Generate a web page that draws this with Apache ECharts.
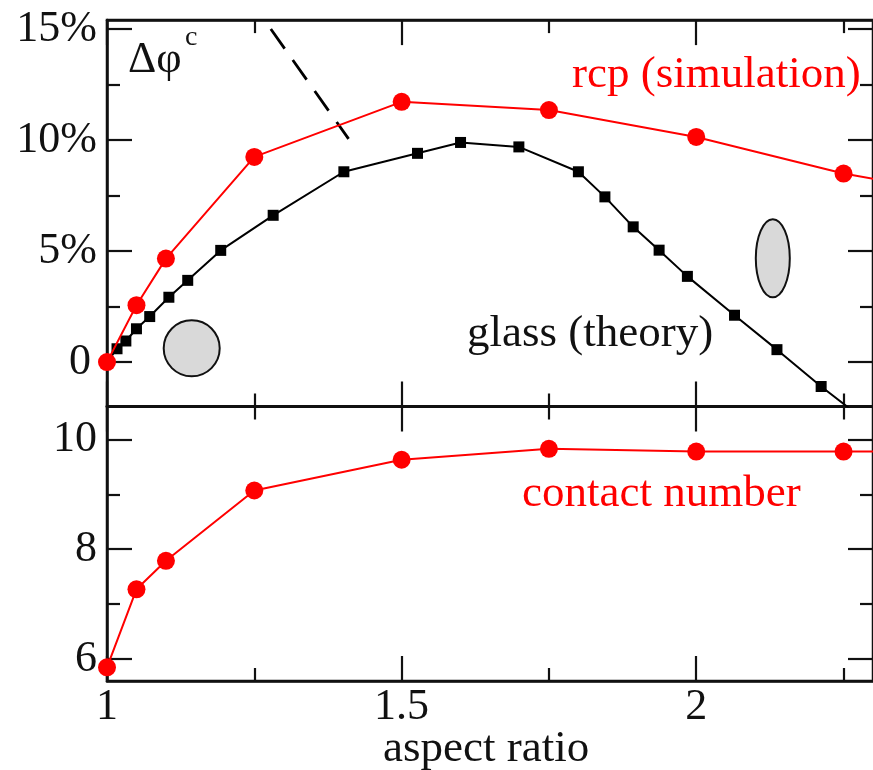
<!DOCTYPE html>
<html>
<head>
<meta charset="utf-8">
<script src="https://cdn.jsdelivr.net/npm/echarts@6/dist/echarts.min.js"></script>
<style>
  html, body { margin: 0; padding: 0; background: #fff; }
  #chart { width: 873px; height: 770px; }
</style>
</head>
<body>
<div id="chart"></div>
<script>
// ---- data -------------------------------------------------------------
// aspect ratio (shared x) and the quantities plotted against it
const rcpX       = [1, 1.05, 1.1, 1.25, 1.5, 1.75, 2.0, 2.25, 2.5];
const rcpDelta   = [0, 2.56, 4.66, 9.24, 11.72, 11.35, 10.14, 8.49, 7.3];

const glassX     = [1, 1.017, 1.032, 1.05, 1.0725, 1.105, 1.137, 1.193, 1.282,
                    1.402, 1.527, 1.6, 1.699, 1.8, 1.845, 1.893, 1.937, 1.985,
                    2.065, 2.137, 2.212, 2.29];
const glassDelta = [0, 0.6, 0.95, 1.5, 2.05, 2.92, 3.68, 5.03, 6.61,
                    8.57, 9.40, 9.89, 9.69, 8.57, 7.44, 6.09, 5.04, 3.86,
                    2.11, 0.56, -1.10, -2.7];

const slopeX     = [1.278, 1.41];
const slopeDelta = [15.0, 10.05];

const contactX   = [1, 1.05, 1.1, 1.25, 1.5, 1.75, 2.0, 2.25, 2.5];
const contactZ   = [5.85, 7.27, 7.79, 9.07, 9.63, 9.83, 9.78, 9.78, 9.78];

// axis ranges and tick values
const xRange     = [1, 2.3];
const deltaRange = [-2, 15.4];
const zRange     = [5.6, 10.6];
const xMajor     = [1, 1.5, 2];
const xMinor     = [1.25, 1.75, 2.25];
const deltaMajor = [0, 5, 10, 15];
const deltaMinor = [2.5, 7.5, 12.5];
const zMajor     = [6, 8, 10];
const zMinor     = [7, 9];

// ---- styling helpers --------------------------------------------------
const FONT = '"Liberation Serif", "Times New Roman", serif';
const INK = '#111';
const RED = '#ff0000';
const MAJOR_LEN = 25, MINOR_LEN = 13;

function pairs(xs, ys) { return xs.map((x, i) => [x, ys[i]]); }

function axis(grid, position, ticks, len, withLine, range, label) {
  return {
    type: 'value',
    gridIndex: grid,
    position: position,
    min: range[0],
    max: range[1],
    axisLine: { show: withLine, onZero: false, lineStyle: { color: INK, width: 2.5 } },
    axisTick: { show: true, inside: true, length: len, customValues: ticks,
                lineStyle: { color: INK, width: 2.2 } },
    axisLabel: label ? Object.assign({
      show: true, customValues: ticks, color: INK,
      fontFamily: FONT, fontSize: 44
    }, label) : { show: false },
    splitLine: { show: false },
    minorTick: { show: false }
  };
}

// per side: major ticks with frame line, then minor ticks
function xAxesFor(grid, withLabels) {
  return [
    axis(grid, 'bottom', xMajor, MAJOR_LEN, true, xRange,
         withLabels ? { margin: 4, formatter: v => String(v) } : null),
    axis(grid, 'bottom', xMinor, MINOR_LEN, false, xRange, null),
    axis(grid, 'top', xMajor, MAJOR_LEN, true, xRange, null),
    axis(grid, 'top', xMinor, MINOR_LEN, false, xRange, null)
  ];
}
function yAxesFor(grid, major, minor, range, label) {
  return [
    axis(grid, 'left', major, MAJOR_LEN, true, range, label),
    axis(grid, 'left', minor, MINOR_LEN, false, range, null),
    axis(grid, 'right', major, MAJOR_LEN, true, range, null),
    axis(grid, 'right', minor, MINOR_LEN, false, range, null)
  ];
}

const frame = { show: true, borderColor: INK, borderWidth: 2.5, backgroundColor: 'transparent' };

const chart = echarts.init(document.getElementById('chart'));

chart.setOption({
  backgroundColor: '#fff',
  animation: false,
  grid: [
    Object.assign({ left: 107, top: 20.1, width: 772, height: 386.4 }, frame),
    Object.assign({ left: 107, top: 406.5, width: 772, height: 274.5 }, frame)
  ],
  xAxis: [].concat(xAxesFor(0, false), xAxesFor(1, true)),
  yAxis: [].concat(
    yAxesFor(0, deltaMajor, deltaMinor, deltaRange, {
      margin: 10,
      formatter: v => (v === 0 ? '{z|0}' : v + '%'),
      rich: { z: { fontFamily: FONT, fontSize: 44, color: INK, padding: [0, 6, 0, 0] } }
    }),
    yAxesFor(1, zMajor, zMinor, zRange, { margin: 10, formatter: v => String(v) })
  ),
  series: [
    {
      name: 'glass (theory)', type: 'line', xAxisIndex: 0, yAxisIndex: 0,
      data: pairs(glassX, glassDelta),
      symbol: 'rect', symbolSize: 11,
      itemStyle: { color: '#000' },
      lineStyle: { color: '#000', width: 2 },
      z: 3
    },
    {
      name: 'slope', type: 'line', xAxisIndex: 0, yAxisIndex: 0,
      data: pairs(slopeX, slopeDelta),
      symbol: 'none',
      lineStyle: { color: '#000', width: 2.8, type: [24, 14] },
      z: 3
    },
    {
      name: 'rcp (simulation)', type: 'line', xAxisIndex: 0, yAxisIndex: 0,
      data: pairs(rcpX, rcpDelta),
      symbol: 'circle', symbolSize: 18,
      itemStyle: { color: RED },
      lineStyle: { color: RED, width: 2 },
      z: 4
    },
    {
      name: 'contact number', type: 'line', xAxisIndex: 4, yAxisIndex: 4,
      data: pairs(contactX, contactZ),
      symbol: 'circle', symbolSize: 18,
      itemStyle: { color: RED },
      lineStyle: { color: RED, width: 2 },
      z: 4
    }
  ],
  graphic: [
    // particle shape sketches: sphere and elongated ellipsoid
    { type: 'circle', shape: { cx: 191.7, cy: 348.3, r: 28 },
      style: { fill: '#d9d9d9', stroke: INK, lineWidth: 2 }, z: 1 },
    { type: 'ellipse', shape: { cx: 772.8, cy: 258.3, rx: 17, ry: 39 },
      style: { fill: '#d9d9d9', stroke: INK, lineWidth: 2 }, z: 1 },
    // annotations
    { type: 'text', left: 128, top: 38,
      style: { text: 'Δφ', font: '44px ' + FONT, fill: INK }, z: 10 },
    { type: 'text', left: 185, top: 24,
      style: { text: 'c', font: '28px ' + FONT, fill: INK }, z: 10 },
    { type: 'text', left: 572, top: 53,
      style: { text: 'rcp (simulation)', font: '45px ' + FONT, fill: RED }, z: 10 },
    { type: 'text', left: 467, top: 312,
      style: { text: 'glass (theory)', font: '45px ' + FONT, fill: INK }, z: 10 },
    { type: 'text', left: 522, top: 472,
      style: { text: 'contact number', font: '45px ' + FONT, fill: RED }, z: 10 },
    { type: 'text', left: 383, top: 727,
      style: { text: 'aspect ratio', font: '45px ' + FONT, fill: INK }, z: 10 }
  ]
});
</script>
</body>
</html>
